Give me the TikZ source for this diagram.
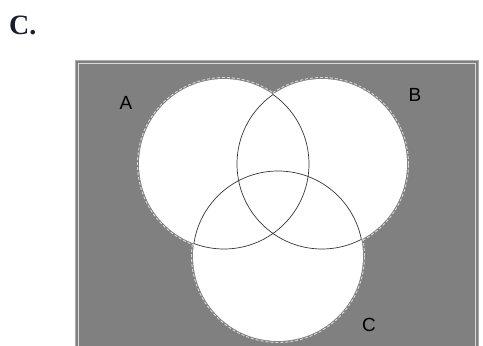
\documentclass[tikz,border=0pt]{standalone}
\usepackage{fontspec}
\setmainfont{Liberation Serif}
\setsansfont{Liberation Sans}
\definecolor{panel}{RGB}{128,128,128}
\definecolor{rim}{RGB}{172,172,172}
\definecolor{ink}{RGB}{55,55,55}
\definecolor{tagink}{RGB}{25,30,45}
\tikzset{
  setlabel/.style={font=\sffamily\fontsize{19}{19}\selectfont, text=black, inner sep=0pt},
  halo/.style={draw=white!70!panel, densely dashed, line width=0.9pt},
  arcline/.style={ink, line width=0.7pt},
}

\begin{document}
\begin{tikzpicture}[x=1pt,y=-1pt]
    \useasboundingbox (0,0) rectangle (483,346);
    \node[font=\bfseries\fontsize{28}{28}\selectfont, text=tagink, anchor=south west, inner sep=0pt] (tag) at (9,35) {C.};
    % the universe
    \fill[panel] (75,60) rectangle (479,350);
    \draw[rim, line width=1.2pt] (75.6,60.6) rectangle (478.4,352);
    \draw[white!70!panel, line width=0.8pt] (78.5,63.5) rectangle (475.5,352);
    \coordinate (ca) at (224,164);
    \coordinate (cb) at (322,164);
    \coordinate (cc) at (278,256);
    \foreach \c in {ca,cb,cc}
      \draw[halo] (\c) circle[radius=86.5pt];
    \foreach \c in {ca,cb,cc}
      \fill[white] (\c) circle[radius=85pt];
    % arcs inside the union only
    \begin{scope}
      \clip (cb) circle[radius=85pt] (cc) circle[radius=85pt];
      \draw[arcline] (ca) circle[radius=85pt];
    \end{scope}
    \begin{scope}
      \clip (ca) circle[radius=85pt] (cc) circle[radius=85pt];
      \draw[arcline] (cb) circle[radius=85pt];
    \end{scope}
    \begin{scope}
      \clip (ca) circle[radius=85pt] (cb) circle[radius=85pt];
      \draw[arcline] (cc) circle[radius=85pt];
    \end{scope}
    \node[setlabel] (la) at (126,103) {A};
    \node[setlabel] (lb) at (415,95) {B};
    \node[setlabel] (lc) at (369,325) {C};
\end{tikzpicture}
\end{document}
